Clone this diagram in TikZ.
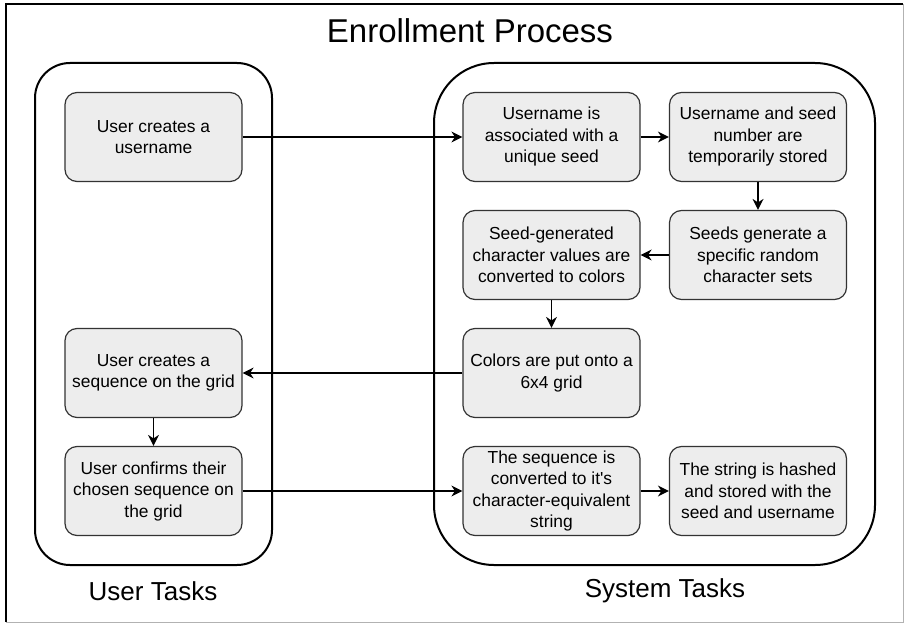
\documentclass[tikz,border=0pt]{standalone}
\usepackage{fontspec}
\setmainfont{Liberation Sans}[Ligatures=TeXOff]
\usetikzlibrary{arrows.meta}
\begin{document}
\begin{tikzpicture}[x=1pt,y=-1pt,
  task/.style={draw=black!80, line width=1.2pt, fill=black!7, rounded corners=12pt,
    minimum width=177pt, minimum height=89pt, inner sep=0pt, align=center,
    font=\fontsize{17.4}{21.5}\selectfont, text=black},
  lane/.style={draw=black, line width=2pt, rounded corners=#1},
  flow/.style={draw=black, line width=1.5pt, -{Stealth[length=11pt,width=11pt,inset=3.5pt]}},
  heading/.style={anchor=base, inner sep=0pt, font=\fontsize{26}{30}\selectfont},
]
\useasboundingbox (0,0) rectangle (904,623);

% outer frame
\draw[line width=1.6pt] (903,4) -- (6,4) -- (6,622);
\draw[black!30, line width=1pt] (903,4) -- (903,622) -- (6,622);

% title
\node[anchor=base, inner sep=0pt, font=\fontsize{33}{38}\selectfont] (title) at (470,43) {Enrollment Process};

% swimlane containers
\draw[lane=35pt] (35,63) rectangle (272,565);
\draw[lane=60pt] (434,63) rectangle (875,565);
\node[heading] (userlbl) at (153,600) {User Tasks};
\node[heading] (syslbl) at (665,597) {System Tasks};

% user tasks
\node[task] (u1) at (153.5,137) {User creates a\\username};
\node[task] (u2) at (153.5,373) {User creates a\\sequence on the grid};
\node[task] (u3) at (153.5,491) {User confirms their\\chosen sequence on\\the grid};

% system tasks
\node[task] (s1) at (551.5,137) {Username is\\associated with a\\unique seed};
\node[task] (s2) at (758,137) {Username and seed\\number are\\temporarily stored};
\node[task] (s3) at (551.5,255) {Seed-generated\\character values are\\converted to colors};
\node[task] (s4) at (758,255) {Seeds generate a\\specific random\\character sets};
\node[task] (s5) at (551.5,373) {Colors are put onto a\\6x4 grid};
\node[task] (s6) at (551.5,491) {The sequence is\\converted to it's\\character-equivalent\\string};
\node[task] (s7) at (758,491) {The string is hashed\\and stored with the\\seed and username};

% flow
\draw[flow] (u1) -- (s1);
\draw[flow] (s1) -- (s2);
\draw[flow] (s2) -- (s4);
\draw[flow] (s4) -- (s3);
\draw[flow] (s3) -- (s5);
\draw[flow] (s5) -- (u2);
\draw[flow] (u2) -- (u3);
\draw[flow] (u3) -- (s6);
\draw[flow] (s6) -- (s7);
\end{tikzpicture}
\end{document}
